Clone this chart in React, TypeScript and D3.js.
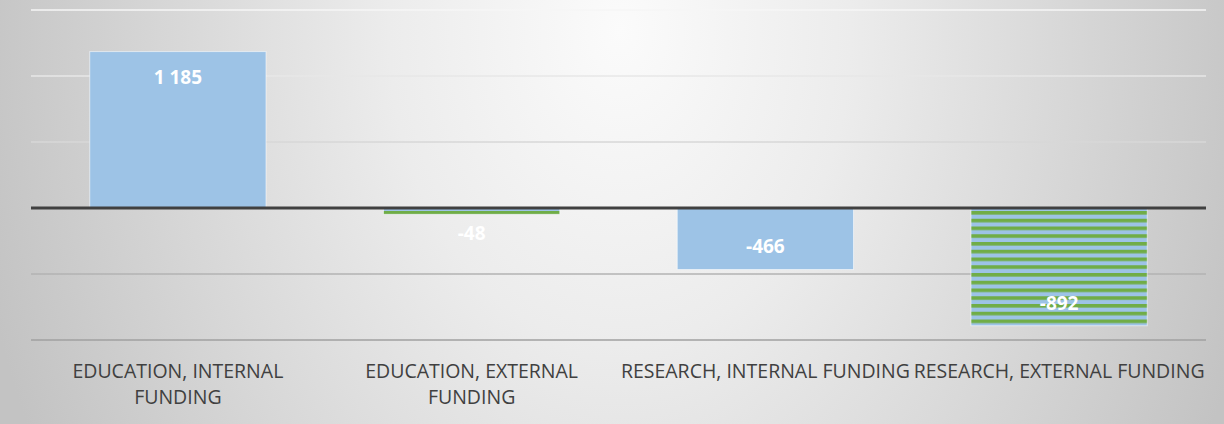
import React from 'react'
import * as d3 from 'd3'

const categories = ['EDUCATION, INTERNAL FUNDING', 'EDUCATION, EXTERNAL FUNDING', 'RESEARCH, INTERNAL FUNDING', 'RESEARCH, EXTERNAL FUNDING']
const categoryLines = [['EDUCATION, INTERNAL', 'FUNDING'], ['EDUCATION, EXTERNAL', 'FUNDING'], ['RESEARCH, INTERNAL FUNDING'], ['RESEARCH, EXTERNAL FUNDING']]
const values = [1185, -48, -466, -892]
const valueLabels = ['1 185', '-48', '-466', '-892']
const fillKinds = ['solid', 'striped', 'solid', 'striped']
const yTicks = [-1000, -500, 0, 500, 1000, 1500]

const W = 1224
const H = 424

export default function App() {
  const x = d3.scaleBand<string>().domain(categories).range([31, 1206]).paddingInner(0.4).paddingOuter(0.2)
  const y = d3.scaleLinear().domain([-1000, 1500]).range([340, 10])
  const y0 = y(0)

  return (
    <svg width={W} height={H} style={{ position: 'absolute', left: 0, top: 0, display: 'block' }}>
      <defs>
        <radialGradient id="bg" gradientUnits="userSpaceOnUse" cx={0} cy={0} r={1}
          gradientTransform="translate(620,30) scale(660,900)">
          <stop offset="0" stopColor="#fbfbfb" />
          <stop offset="0.35" stopColor="#ececec" />
          <stop offset="1" stopColor="#c3c3c3" />
        </radialGradient>
        <linearGradient id="grid" gradientUnits="userSpaceOnUse" x1={0} y1={y(1500)} x2={0} y2={y(-1000)}>
          <stop offset="0" stopColor="#f6f6f6" />
          <stop offset="0.35" stopColor="#dcdcdc" />
          <stop offset="1" stopColor="#a0a0a0" />
        </linearGradient>
        <pattern id="stripes" patternUnits="userSpaceOnUse" width={8} height={7.75} y={y0 + 3}>
          <rect width={8} height={7.75} fill="#9dc3e6" />
          <rect width={8} height={3.6} fill="#70ad47" />
        </pattern>
      </defs>

      <rect width={W} height={H} fill="url(#bg)" />

      {/* gridlines */}
      {yTicks.filter((t) => t !== 0).map((t) => (
        <line key={t} x1={31} x2={1206} y1={y(t)} y2={y(t)} stroke="url(#grid)" strokeWidth={1.6} />
      ))}

      {/* bars */}
      {categories.map((c, i) => {
        const v = values[i]
        const top = Math.min(y(v), y0)
        const h = Math.abs(y(v) - y0)
        return (
          <rect key={c} x={x(c)} y={top} width={x.bandwidth()} height={h}
            fill={fillKinds[i] === 'striped' ? 'url(#stripes)' : '#9dc3e6'}
            stroke="rgba(255,255,255,0.55)" strokeWidth={1} />
        )
      })}

      {/* zero axis */}
      <line x1={31} x2={1206} y1={y0} y2={y0} stroke="#404040" strokeWidth={3} />

      {/* value labels */}
      {categories.map((c, i) => {
        const v = values[i]
        const end = y(v)
        const h = Math.abs(end - y0)
        let cy
        if (h > 40) cy = v >= 0 ? end + 26 : end - 23
        else cy = end + 19
        return (
          <text key={c} x={(x(c) ?? 0) + x.bandwidth() / 2} y={cy + 6.8} textAnchor="middle"
            fontFamily="'Open Sans', sans-serif" fontWeight={700} fontSize={19} fill="#ffffff">
            {valueLabels[i]}
          </text>
        )
      })}

      {/* category labels */}
      {categories.map((c, i) => (
        <text key={c} textAnchor="middle" fontFamily="'Open Sans', sans-serif" fontSize={19.5} fill="#404040">
          {categoryLines[i].map((line, j) => (
            <tspan key={j} x={(x(c) ?? 0) + x.bandwidth() / 2} y={378 + j * 26}>{line}</tspan>
          ))}
        </text>
      ))}
    </svg>
  )
}
